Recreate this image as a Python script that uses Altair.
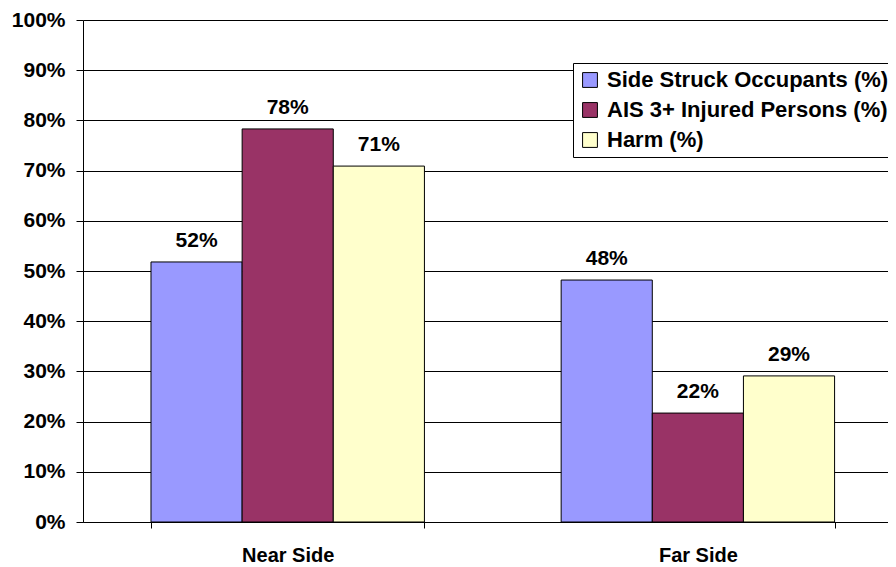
import altair as alt
import pandas as pd

categories = ["Near Side", "Far Side"]
series = ["Side Struck Occupants (%)", "AIS 3+ Injured Persons (%)", "Harm (%)"]
side_struck = [51.8, 48.2]
ais3_injured = [78.3, 21.7]
harm = [70.9, 29.1]
colors = ["#9999FF", "#993366", "#FFFFCC"]
y_ticks = [0, 10, 20, 30, 40, 50, 60, 70, 80, 90, 100]

rows = []
for s, vals in zip(series, [side_struck, ais3_injured, harm]):
    for c, v in zip(categories, vals):
        rows.append({"category": c, "series": s, "value": v, "label": f"{round(v)}%"})
df = pd.DataFrame(rows)

FONT = "Liberation Sans"

x_enc = alt.X(
    "category:N",
    sort=categories,
    scale=alt.Scale(paddingInner=1 / 3, paddingOuter=0.148, align=0.56),
    axis=alt.Axis(
        title=None,
        labelAngle=0,
        labelFont=FONT,
        labelFontSize=20,
        labelFontWeight="bold",
        labelColor="black",
        labelPadding=17,
        tickBand="extent",
        tickSize=6,
        tickColor="black",
        domainColor="black",
        grid=False,
    ),
)
xoff_enc = alt.XOffset("series:N", sort=series, scale=alt.Scale(paddingInner=0, paddingOuter=0))
y_enc = alt.Y(
    "value:Q",
    scale=alt.Scale(domain=[0, 100], nice=False),
    axis=alt.Axis(
        title=None,
        values=y_ticks,
        labelExpr="datum.value + '%'",
        labelFont=FONT,
        labelFontSize=21,
        labelFontWeight="bold",
        labelColor="black",
        labelPadding=11,
        tickSize=7,
        tickColor="black",
        domainColor="black",
        grid=True,
        gridColor="black",
        gridWidth=1,
    ),
)

bars = alt.Chart(df).mark_bar(stroke="black", strokeWidth=1).encode(
    x=x_enc,
    xOffset=xoff_enc,
    y=y_enc,
    color=alt.Color(
        "series:N",
        sort=series,
        scale=alt.Scale(domain=series, range=colors),
        legend=alt.Legend(
            title=None,
            orient="none",
            legendX=490,
            legendY=43,
            labelFont=FONT,
            labelFontSize=22,
            labelFontWeight="bold",
            labelColor="black",
            labelLimit=400,
            labelOffset=6,
            symbolType="square",
            symbolSize=220,
            symbolStrokeColor="black",
            symbolStrokeWidth=1,
            strokeColor="black",
            fillColor="white",
            padding=6,
            rowPadding=8,
        ),
    ),
)

text = alt.Chart(df).mark_text(
    font=FONT, fontSize=21, fontWeight="bold", color="black", baseline="alphabetic", dy=-15
).encode(
    x=alt.X("category:N", sort=categories),
    xOffset=alt.XOffset("series:N", sort=series),
    y=alt.Y("value:Q"),
    text="label:N",
)

chart = (
    alt.layer(bars, text)
    .properties(
        width=805,
        height=502,
        autosize=alt.AutoSizeParams(type="none"),
        padding={"left": 75, "top": 12, "right": 0, "bottom": 45},
    )
    .configure_view(stroke=None)
)

chart.save("out.html", embed_options={"renderer": "svg", "actions": False})
